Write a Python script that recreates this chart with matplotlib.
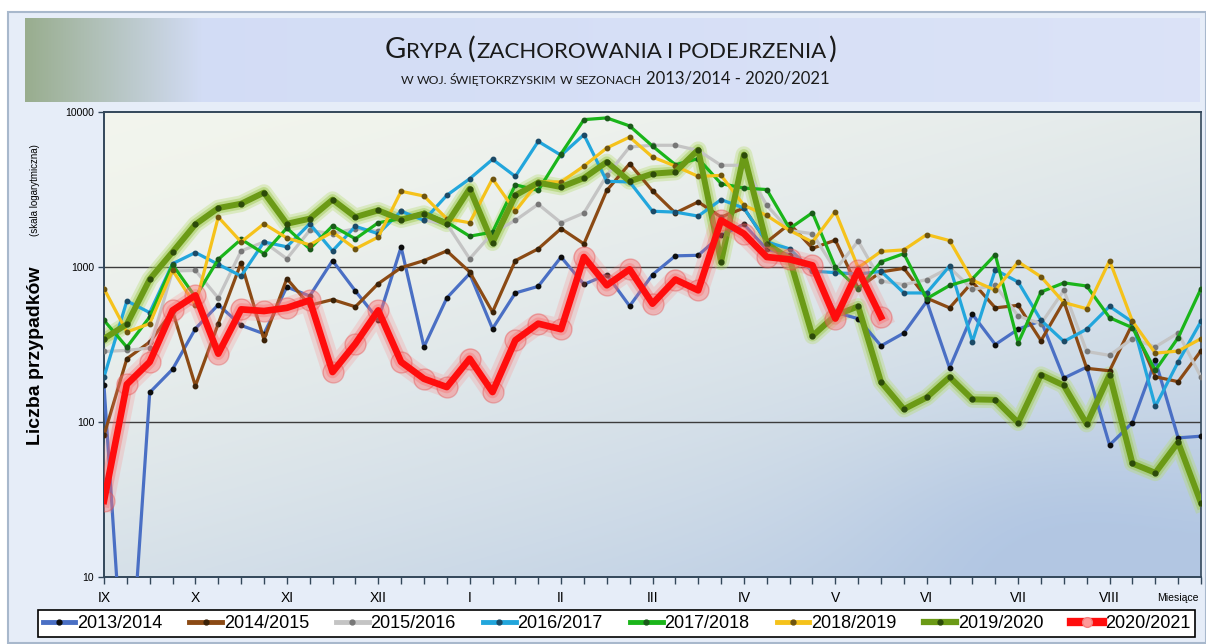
import numpy as np
import matplotlib
matplotlib.use("Agg")
import matplotlib.pyplot as plt
from matplotlib.lines import Line2D
from matplotlib.patches import Rectangle
from matplotlib import font_manager

W, H = 1206, 644

# ---- data (weekly cases, Sept -> Aug) ----
seasons = ["2013/2014", "2014/2015", "2015/2016", "2016/2017",
           "2017/2018", "2018/2019", "2019/2020", "2020/2021"]

s2013 = [172, 1, 155, 219, 400, 571, 420, 371, 743, 650, 1100, 700, 457, 1345, 305, 631,
         906, 400, 680, 750, 1160, 773, 892, 560, 892, 1180, 1190, 1600, 1885, 1300, 1200,
         950, 510, 464, 310, 375, 600, 223, 495, 316, 397, 450, 192, 226, 71, 99, 250, 79, 81]
s2014 = [82, 256, 328, 520, 171, 431, 1066, 340, 841, 566, 616, 554, 781, 990, 1100, 1270,
         930, 512, 1100, 1310, 1770, 1410, 3120, 4640, 3100, 2230, 2630, 2100, 2400, 1450,
         1900, 1320, 1490, 730, 930, 980, 630, 545, 800, 545, 566, 335, 600, 222, 214, 430,
         196, 182, 288]
s2015 = [285, 290, 300, 943, 950, 631, 1270, 1450, 1130, 1720, 1640, 1770, 1700, 2300, 2000,
         1900, 1130, 1660, 2000, 2540, 1930, 2230, 3900, 5950, 6100, 6100, 5650, 4530, 4530,
         2500, 1720, 1640, 960, 1470, 812, 770, 830, 990, 718, 760, 483, 431, 707, 285, 269,
         345, 305, 375, 195]
s2016 = [195, 604, 508, 1050, 1240, 1040, 875, 1450, 1350, 1900, 1270, 1830, 1640, 2290, 2000,
         2900, 3710, 4950, 3840, 6460, 5260, 7140, 3570, 3540, 2290, 2260, 2130, 2720, 2400,
         1450, 1310, 940, 920, 900, 938, 680, 680, 1015, 330, 960, 800, 453, 331, 397, 557,
         442, 126, 244, 446]
s2017 = [453, 304, 476, 1035, 640, 1120, 1510, 1220, 1785, 1310, 1840, 1520, 1930, 2050, 2240,
         1950, 1580, 1680, 3390, 3120, 5380, 8930, 9160, 8130, 6030, 4570, 5000, 3450, 3230,
         3160, 1770, 2240, 1000, 720, 1080, 1220, 625, 760, 840, 1200, 324, 690, 790, 754,
         471, 406, 215, 350, 725]
s2018 = [725, 381, 431, 952, 566, 2100, 1450, 1900, 1540, 1390, 1680, 1310, 1560, 3080, 2870,
         2050, 1930, 3710, 2290, 3540, 3540, 4480, 5860, 6890, 5120, 4480, 3840, 3900, 2500,
         2150, 1720, 1450, 2280, 990, 1260, 1290, 1620, 1480, 822, 708, 1080, 865, 590, 538,
         1100, 447, 278, 287, 345]
s2019 = [345, 427, 833, 1250, 1885, 2400, 2560, 3020, 1900, 2050, 2720, 2100, 2320, 2020, 2210,
         1900, 3200, 1435, 2900, 3500, 3280, 3750, 4760, 3570, 4000, 4100, 5710, 1080, 5310,
         1410, 1130, 359, 488, 557, 181, 121, 144, 195, 140, 139, 99, 202, 172, 97, 202, 54,
         47, 74, 30]
s2020 = [31, 175, 244, 525, 656, 276, 533, 520, 545, 610, 210, 320, 525, 244, 190, 168, 256,
         156, 337, 431, 397, 1160, 762, 966, 580, 830, 707, 2000, 1640, 1160, 1120, 1025,
         465, 950, 476]

month_labels = ["IX", "X", "XI", "XII", "I", "II", "III", "IV", "V", "VI", "VII", "VIII"]
n_weeks = 49

# ---- fonts ----
names = {f.name for f in font_manager.fontManager.ttflist}
narrow = "Liberation Sans Narrow" if "Liberation Sans Narrow" in names else "Liberation Sans"
plt.rcParams["font.family"] = ["Liberation Sans", "DejaVu Sans"]

fig = plt.figure(figsize=(W / 100, H / 100), dpi=100)
fig.patch.set_facecolor("white")


def px(x0, y0, x1, y1):
    # pixel box (top-left origin) -> figure fraction rect
    return [x0 / W, 1 - y1 / H, (x1 - x0) / W, (y1 - y0) / H]


# outer chart panel
fig.patches.append(Rectangle((8 / W, 1 - 643 / H), (W - 8) / W, (643 - 12) / H,
                             transform=fig.transFigure, facecolor="#E6EDF8",
                             edgecolor="#A8B8CC", lw=1.5, zorder=-5))

# title banner with gradient
bax = fig.add_axes(px(25, 18, 1200, 102))
bax.axis("off")
gx = np.linspace(0, 1, 400)
c_left = np.array([0.60, 0.68, 0.56])
c_mid = np.array([0.82, 0.86, 0.96])
c_right = np.array([0.86, 0.89, 0.97])
tt = np.clip(gx / 0.15, 0, 1)[:, None]
row = c_left * (1 - tt) + c_mid * tt + (c_right - c_mid) * gx[:, None]
bax.imshow(row[None, :, :], aspect="auto", extent=[0, 1, 0, 1])
bax.set_xlim(0, 1)
bax.set_ylim(0, 1)

renderer = fig.canvas.get_renderer()


def pieces_text(parts, cx, ybase, family):
    texts, widths = [], []
    for s, size, gap in parts:
        t = fig.text(0, 1 - ybase / H, s, fontsize=size, family=family,
                     va="baseline", ha="left", color="#1a1a1a", zorder=5)
        texts.append(t)
        widths.append(t.get_window_extent(renderer).width + gap)
    x = cx - sum(widths) / 2
    for t, w in zip(texts, widths):
        t.set_x(x / W)
        x += w


title_parts = [("G", 21, 0), ("RYPA", 16, 6), ("(", 21, 1), ("ZACHOROWANIA", 16, 5),
               ("I", 16, 5), ("PODEJRZENIA", 16, 1), (")", 21, 0)]
pieces_text(title_parts, 610, 58, ["Lato", "DejaVu Sans"])
sub_parts = [("W", 8.8, 3), ("WOJ.", 8.8, 3), ("ŚWIĘTOKRZYSKIM", 8.8, 3), ("W", 8.8, 3),
             ("SEZONACH", 8.8, 4), ("2013/2014 - 2020/2021", 12, 0)]
pieces_text(sub_parts, 615, 84, ["Lato", "DejaVu Sans"])

# ---- main plot ----
ax = fig.add_axes(px(104, 112, 1201, 577))
ax.set_yscale("log")
ax.set_ylim(10, 10000)
ax.set_xlim(0, n_weeks - 1)

# plot background gradient
yy, xx = np.mgrid[0:1:200j, 0:1:300j]
tg = np.clip(0.40 * xx + 0.60 * yy, 0, 1) ** 1.6
tg = np.clip(tg + 0.18 * np.exp(-((xx - 0.85) ** 2 / 0.03 + (yy - 0.88) ** 2 / 0.05)), 0, 1)
top_c = np.array([0.95, 0.96, 0.93])
bot_c = np.array([0.70, 0.78, 0.89])
bg = top_c * (1 - tg[..., None]) + bot_c * tg[..., None]
ax.imshow(bg, aspect="auto", extent=[0, 1, 0, 1], origin="upper",
          transform=ax.transAxes, zorder=0)

for v in (100, 1000):
    ax.axhline(v, color="#3c3c3c", lw=1.0, zorder=1)

weeks = np.arange(n_weeks)
thin = [
    (s2013, "#4A6FC4", "#0d0d0d"),
    (s2014, "#8B4A14", "#3b2208"),
    (s2015, "#C4C4C4", "#777777"),
    (s2016, "#22A6DC", "#1c4a66"),
    (s2017, "#1AB51A", "#1a5a1a"),
    (s2018, "#F5C21B", "#6e5410"),
]
handles = []
for vals, col, dot in thin:
    ax.plot(weeks[:len(vals)], vals, color=col, lw=2.3, marker="o", ms=3.2,
            mfc=dot, mec=dot, zorder=3, solid_joinstyle="round")
    handles.append(Line2D([], [], color=col, lw=3.5, marker="o", ms=3.5, mfc=dot, mec=dot))

# 2019/2020 - thick olive with glow
x19 = weeks[:len(s2019)]
ax.plot(x19, s2019, color="#B6DB6E", lw=12, alpha=0.35, zorder=2, solid_joinstyle="round")
ax.plot(x19, s2019, color="#9CC94A", lw=8, alpha=0.45, zorder=2, solid_joinstyle="round")
ax.plot(x19, s2019, color="#6B9A16", lw=4.3, marker="o", ms=3.5, mfc="#2c4a0a",
        mec="#2c4a0a", zorder=4, solid_joinstyle="round")
handles.append(Line2D([], [], color="#6B9A16", lw=4.5, marker="o", ms=3.5,
                      mfc="#2c4a0a", mec="#2c4a0a"))

# 2020/2021 - thick red with glow and halo markers
x20 = weeks[:len(s2020)]
ax.plot(x20, s2020, color="#FF8080", lw=15, alpha=0.22, zorder=5, solid_joinstyle="round")
ax.plot(x20, s2020, color="#FF5050", lw=9, alpha=0.3, zorder=5, solid_joinstyle="round")
ax.plot(x20, s2020, ls="none", marker="o", ms=15, mfc=(1, 0.45, 0.45, 0.3),
        mec=(0.9, 0.3, 0.3, 0.4), mew=1, zorder=5)
ax.plot(x20, s2020, color="#FF0D0D", lw=4.8, zorder=6, solid_joinstyle="round")
handles.append(Line2D([], [], color="#FF0D0D", lw=6, marker="o", ms=7,
                      mfc=(1, 0.6, 0.6), mec=(0.95, 0.5, 0.5)))

# axes styling
for sp in ax.spines.values():
    sp.set_color("#33475a")
    sp.set_linewidth(1.4)
ax.spines["right"].set_linewidth(1.2)

ax.set_yticks([10, 100, 1000, 10000])
ax.set_yticklabels(["10", "100", "1000", "10000"])
ax.yaxis.set_minor_locator(matplotlib.ticker.NullLocator())
ax.tick_params(axis="y", direction="out", length=4, width=1, color="#33475a",
               labelsize=7.5, pad=3)

xlabels = [""] * n_weeks
for k, m in enumerate(month_labels):
    xlabels[4 * k] = m
ax.set_xticks(weeks)
ax.set_xticklabels(xlabels, family=narrow, fontsize=10)
ax.tick_params(axis="x", direction="out", length=5, width=1, color="#33475a", pad=5)
ax.text(47, -0.035, "Miesiące", transform=ax.get_xaxis_transform(), ha="center",
        va="top", fontsize=7.5, family=narrow)

# y-axis title
fig.text(36 / W, 1 - 356 / H, "Liczba przypadków", rotation=90, ha="center",
         va="center", fontsize=14, fontweight="bold")
fig.text(35 / W, 1 - 190 / H, "(skala logarytmiczna)", rotation=90, ha="center",
         va="center", fontsize=7)

leg = fig.legend(handles, seasons, loc="center", ncol=8, mode="expand",
                 bbox_to_anchor=(38 / W, 3 / H, 1157 / W, 35 / H),
                 frameon=True, fancybox=False, framealpha=1, edgecolor="black",
                 fontsize=13, handlelength=1.8, handletextpad=0.1,
                 borderaxespad=0, borderpad=0.25, columnspacing=0.5)
leg.get_frame().set_linewidth(1.2)

fig.savefig("out.png", dpi=100)
